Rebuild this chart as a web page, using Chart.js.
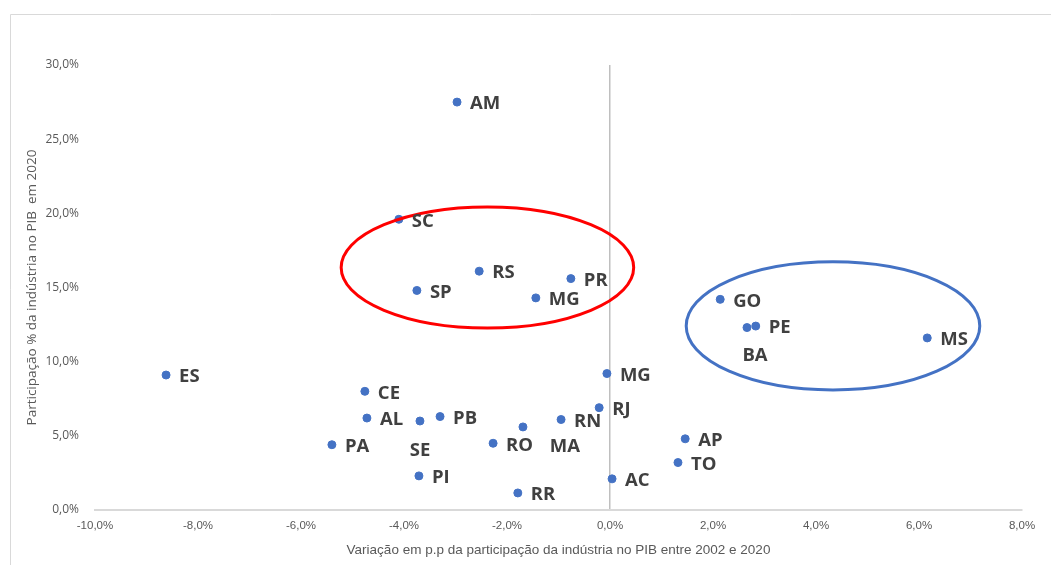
<!DOCTYPE html>
<html>
<head>
<meta charset="utf-8">
<script src="https://cdn.jsdelivr.net/npm/chart.js@4"></script>
<style>
    body { margin: 0; background: #fff; }
    canvas { display: block; }
</style>
</head>
<body>
<canvas id="myChart" width="1051" height="565"></canvas>
<script>
const states = ['AM', 'SC', 'RS', 'PR', 'SP', 'MG', 'ES', 'CE', 'AL', 'SE', 'PB', 'PA', 'PI',
    'RO', 'MA', 'RN', 'RJ', 'MG', 'RR', 'AC', 'AP', 'TO', 'GO', 'BA', 'PE', 'MS'];
const variacao = [-2.97, -4.10, -2.54, -0.76, -3.75, -1.44, -8.62, -4.76, -4.72, -3.69, -3.30, -5.40, -3.71,
    -2.27, -1.69, -0.95, -0.21, -0.06, -1.79, 0.04, 1.46, 1.32, 2.14, 2.66, 2.83, 6.16];
const participacao = [27.5, 19.6, 16.1, 15.6, 14.8, 14.3, 9.1, 8.0, 6.2, 6.0, 6.3, 4.4, 2.3,
    4.5, 5.6, 6.1, 6.9, 9.2, 1.15, 2.1, 4.8, 3.2, 14.2, 12.3, 12.4, 11.6];
const xTicks = [-10, -8, -6, -4, -2, 0, 2, 4, 6, 8];
const yTicks = [0, 5, 10, 15, 20, 25, 30];

// highlight ellipses: center x, center y, radius x, radius y (data units)
const ellipses = [
    { cx: -2.38, cy: 16.35, rx: 2.84, ry: 4.08, color: '#ff0000' },
    { cx: 4.33, cy: 12.41, rx: 2.85, ry: 4.32, color: '#4472c4' }
];

// labels that sit under their point instead of to the right
const labelBelow = { 9: [0, 30], 14: [42, 20], 23: [8, 28] };

const fmt = (v) => v.toFixed(1).replace('.', ',') + '%';

const points = variacao.map((x, i) => {
    return { x: x, y: participacao[i] };
});

const extras = {
    id: 'extras',
    beforeDraw(chart) {
        const c = chart.ctx;
        c.save();
        c.strokeStyle = '#d9d9d9';
        c.lineWidth = 1;
        c.beginPath();
        c.moveTo(10.5, 565);
        c.lineTo(10.5, 14.5);
        c.lineTo(1051, 14.5);
        c.stroke();
        c.restore();
    },
    afterDatasetsDraw(chart) {
        const c = chart.ctx;
        const xs = chart.scales.x;
        const ys = chart.scales.y;
        c.save();
        ellipses.forEach((e) => {
            const px = xs.getPixelForValue(e.cx);
            const py = ys.getPixelForValue(e.cy);
            const rx = Math.abs(xs.getPixelForValue(e.cx + e.rx) - px);
            const ry = Math.abs(ys.getPixelForValue(e.cy + e.ry) - py);
            c.beginPath();
            c.ellipse(px, py, rx, ry, 0, 0, Math.PI * 2);
            c.strokeStyle = e.color;
            c.lineWidth = 3;
            c.stroke();
        });
        c.font = 'bold 18.5px "Open Sans"';
        c.fillStyle = '#404040';
        c.textBaseline = 'middle';
        chart.getDatasetMeta(0).data.forEach((el, i) => {
            if (labelBelow[i]) {
                c.textAlign = 'center';
                c.fillText(states[i], el.x + labelBelow[i][0], el.y + labelBelow[i][1]);
            } else {
                c.textAlign = 'left';
                c.fillText(states[i], el.x + 13, el.y + 2);
            }
        });
        c.restore();
    }
};

const ctx = document.getElementById('myChart');
const myChart = new Chart(ctx, { // eslint-disable-line
    type: 'scatter',
    data: {
        datasets: [{
            data: points,
            backgroundColor: '#4472c4',
            borderColor: '#4472c4',
            pointRadius: 4,
            pointHoverRadius: 4
        }]
    },
    options: {
        responsive: false,
        animation: false,
        layout: {
            padding: { left: 10, right: 29, top: 65, bottom: 0 }
        },
        plugins: {
            legend: { display: false },
            tooltip: { enabled: false }
        },
        scales: {
            x: {
                type: 'linear',
                min: -10,
                max: 8,
                afterBuildTicks: (scale) => {
                    scale.ticks = xTicks.map((v) => ({ value: v }));
                },
                afterFit: (scale) => {
                    scale.height = 55;
                },
                ticks: {
                    callback: (v) => fmt(v),
                    color: '#595959',
                    font: { family: 'Liberation Sans', size: 11.5 },
                    padding: 9,
                    maxRotation: 0
                },
                grid: {
                    drawTicks: false,
                    color: (c) => (c.tick && c.tick.value === 0 ? '#bfbfbf' : 'rgba(0,0,0,0)'),
                    lineWidth: 1.5
                },
                border: { display: true, color: '#d9d9d9', width: 2 },
                title: {
                    display: true,
                    text: 'Variação em p.p da participação da indústria no PIB entre 2002 e 2020',
                    color: '#595959',
                    font: { family: 'Liberation Sans', size: 13.5 },
                    padding: { top: 0, bottom: 7 }
                }
            },
            y: {
                min: 0,
                max: 30,
                afterBuildTicks: (scale) => {
                    scale.ticks = yTicks.map((v) => ({ value: v }));
                },
                afterFit: (scale) => {
                    scale.width = 85;
                },
                ticks: {
                    callback: (v) => fmt(v),
                    color: '#595959',
                    font: { family: 'Open Sans', size: 12 },
                    padding: 8
                },
                grid: { display: false },
                border: { display: false },
                title: {
                    display: true,
                    text: 'Participação % da indústria no PIB  em 2020',
                    color: '#595959',
                    font: { family: 'Open Sans', size: 13.5 },
                    padding: { top: 14, bottom: 0 }
                }
            }
        }
    },
    plugins: [extras]
});
</script>
</body>
</html>
